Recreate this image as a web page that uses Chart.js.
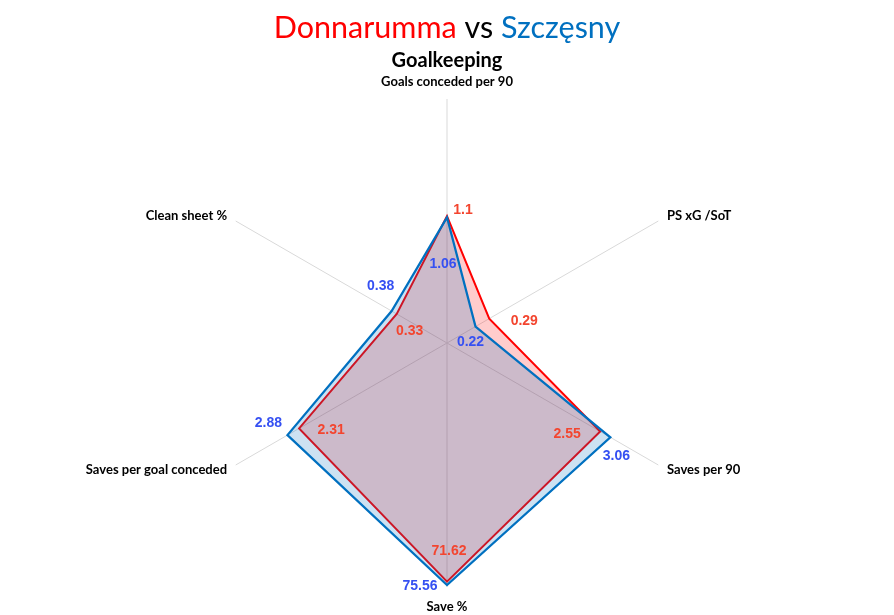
<!DOCTYPE html>
<html>
<head>
<meta charset="utf-8">
<script src="https://cdn.jsdelivr.net/npm/chart.js@4.4.1/dist/chart.umd.min.js"></script>
<style>
  html, body { margin: 0; padding: 0; background: #ffffff; }
</style>
</head>
<body>
<canvas id="radarChart" width="894" height="615"></canvas>
<script>
// axis names, clockwise from the top
const categories = ['Goals conceded per 90', 'PS xG /SoT', 'Saves per 90', 'Save %', 'Saves per goal conceded', 'Clean sheet %'];

// values printed next to each point
const donnarummaValues = [1.1, 0.29, 2.55, 71.62, 2.31, 0.33];
const szczesnyValues = [1.06, 0.22, 3.06, 75.56, 2.88, 0.38];

// where each point sits on its own axis (0-100)
const donnarummaScores = [52, 20, 72.5, 97.8, 70, 23.8];
const szczesnyScores = [51.5, 13.5, 77.3, 99.2, 75.5, 26.2];

const titleParts = ['Donnarumma', ' vs ', 'Szczęsny'];
const subtitle = 'Goalkeeping';

// label nudges from the point (px), like the spreadsheet placed them
const donnarummaLabelOffsets = [[16, -6], [35, 3], [-33, 3], [2, -30], [32, 2], [13, 17]];
const szczesnyLabelOffsets = [[-4, 47], [-5, 16], [6, 19], [-27, 1], [-19, -12], [-11, -25]];

const RED = '#ff0000';
const BLUE = '#0070c0';
const RED_TEXT = '#f3452f';
const BLUE_TEXT = '#3550f2';

/**
 * Draws the title, axis names and value labels on the canvas
 */
const labelPlugin = {
    id: 'labelPlugin',
    afterDraw(chart) {
        const ctx = chart.ctx;
        const scale = chart.scales.r;
        ctx.save();

        // title in three colours
        ctx.font = '30.5px Lato';
        ctx.textBaseline = 'alphabetic';
        ctx.textAlign = 'left';
        const widths = titleParts.map(t => ctx.measureText(t).width);
        let x = 447 - widths.reduce((a, b) => a + b, 0) / 2;
        const titleColors = [RED, '#000000', BLUE];
        titleParts.forEach((t, i) => {
            ctx.fillStyle = titleColors[i];
            ctx.fillText(t, x, 38);
            x += widths[i];
        });

        ctx.font = 'bold 20px Lato';
        ctx.fillStyle = '#000000';
        ctx.textAlign = 'center';
        ctx.fillText(subtitle, 447, 67);

        // axis names
        ctx.font = 'bold 13px Lato';
        categories.forEach((name, i) => {
            let pos;
            if (i === 0) {
                pos = scale.getPointPosition(i, scale.drawingArea + 11);
                ctx.textAlign = 'center';
                ctx.textBaseline = 'bottom';
            } else if (i === 3) {
                pos = scale.getPointPosition(i, scale.drawingArea + 13);
                ctx.textAlign = 'center';
                ctx.textBaseline = 'top';
            } else {
                pos = scale.getPointPosition(i, scale.drawingArea + 10);
                ctx.textAlign = i < 3 ? 'left' : 'right';
                ctx.textBaseline = 'middle';
            }
            ctx.fillText(name, pos.x, pos.y);
        });

        // value labels
        ctx.font = 'bold 14px "Liberation Sans", Arial, sans-serif';
        ctx.textAlign = 'center';
        ctx.textBaseline = 'middle';
        const sets = [
            { meta: chart.getDatasetMeta(0), values: donnarummaValues, offsets: donnarummaLabelOffsets, color: RED_TEXT },
            { meta: chart.getDatasetMeta(1), values: szczesnyValues, offsets: szczesnyLabelOffsets, color: BLUE_TEXT }
        ];
        sets.forEach(s => {
            ctx.fillStyle = s.color;
            s.meta.data.forEach((pt, i) => {
                ctx.fillText(String(s.values[i]), pt.x + s.offsets[i][0], pt.y + s.offsets[i][1]);
            });
        });

        ctx.restore();
    }
};

const radarChart = new Chart(document.getElementById('radarChart'), {
    type: 'radar',
    data: {
        labels: categories,
        datasets: [{
            label: 'Donnarumma',
            data: donnarummaScores,
            borderColor: RED,
            backgroundColor: 'rgba(255, 0, 0, 0.2)',
            borderWidth: 2,
            borderJoinStyle: 'miter',
            pointRadius: 0,
            fill: true,
            order: 2
        }, {
            label: 'Szczęsny',
            data: szczesnyScores,
            borderColor: BLUE,
            backgroundColor: 'rgba(0, 112, 192, 0.2)',
            borderWidth: 2.25,
            borderJoinStyle: 'miter',
            pointRadius: 0,
            fill: true,
            order: 1
        }]
    },
    options: {
        responsive: false,
        animation: false,
        layout: {
            padding: { top: 99, bottom: 28, left: 0, right: 0 }
        },
        plugins: {
            legend: { display: false },
            tooltip: { enabled: false }
        },
        scales: {
            r: {
                min: 0,
                max: 100,
                ticks: { display: false },
                grid: { display: false },
                angleLines: {
                    display: true,
                    color: '#d9d9d9',
                    lineWidth: 1
                },
                pointLabels: { display: false }
            }
        }
    },
    plugins: [labelPlugin]
});
</script>
</body>
</html>
